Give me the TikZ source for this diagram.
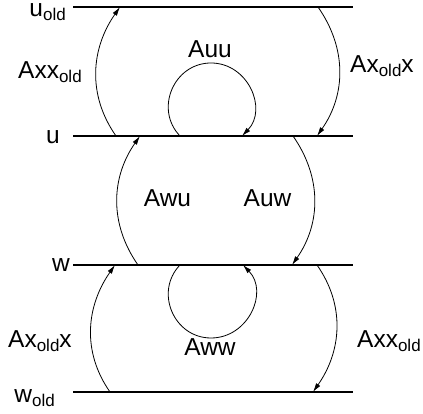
\documentclass[tikz,border=0pt]{standalone}
\usepackage{fontspec}
\setmainfont{Liberation Sans}
\usetikzlibrary{arrows.meta}
\newcommand{\oldsub}{\raisebox{-4pt}{\fontsize{17}{17}\selectfont old}}
\tikzset{
  level/.style={line width=1.2pt},
  link/.style={line width=0.8pt, -{Latex[length=9pt,width=5pt]}},
  lbl/.style={inner sep=0pt, font=\fontsize{24.5}{28}\selectfont},
  bulge-left/.style={out=125, in=235},
  bulge-right/.style={out=-55, in=55}
}

\begin{document}
\begin{tikzpicture}[x=1pt, y=1pt]
  \useasboundingbox (0,0) rectangle (423,414);
  % levels
  \coordinate (uo-l) at (73,407);  \coordinate (uo-r) at (353,407);
  \coordinate (u-l)  at (73,278);  \coordinate (u-r)  at (353,278);
  \coordinate (w-l)  at (73,149);  \coordinate (w-r)  at (353,149);
  \coordinate (wo-l) at (73,22);   \coordinate (wo-r) at (353,22);
  \draw[level] (uo-l) -- (uo-r);
  \draw[level] (u-l) -- (u-r);
  \draw[level] (w-l) -- (w-r);
  \draw[level] (wo-l) -- (wo-r);
  \node[lbl, anchor=base east] (uo-name) at (66,397) {u\oldsub};
  \node[lbl, anchor=base east] (u-name) at (60,270) {u};
  \node[lbl, anchor=base east] (w-name) at (70,142) {w};
  \node[lbl, anchor=base east] (wo-name) at (55,11) {w\oldsub};
  % ends of the links
  \coordinate (axxo-s) at (116,278); \coordinate (axxo-e) at (120,407);
  \coordinate (axox-s) at (318,407); \coordinate (axox-e) at (317,278);
  \coordinate (awu-s) at (138,149);  \coordinate (awu-e) at (140,278);
  \coordinate (auw-s) at (293,278);  \coordinate (auw-e) at (292,149);
  \coordinate (bxox-s) at (110,22);  \coordinate (bxox-e) at (115,149);
  \coordinate (bxxo-s) at (317,149); \coordinate (bxxo-e) at (313,22);
  \coordinate (uu-s) at (180,278); \coordinate (uu-top) at (211,351); \coordinate (uu-e) at (242,278);
  \coordinate (ww-s) at (180,149); \coordinate (ww-bot) at (211,76);  \coordinate (ww-e) at (243,149);
  % links
  \draw[link] (axxo-s) to[bulge-left] (axxo-e);
  \draw[link] (axox-s) to[bulge-right] (axox-e);
  \draw[link] (awu-s) to[bulge-left] (awu-e);
  \draw[link] (auw-s) to[bulge-right] (auw-e);
  \draw[link] (bxox-s) to[bulge-left] (bxox-e);
  \draw[link] (bxxo-s) to[bulge-right] (bxxo-e);
  \draw[link] (uu-s) to[out=134, in=180, looseness=1.2] (uu-top)
    to[out=0, in=46, looseness=1.2] (uu-e);
  \draw[link] (ww-s) to[out=226, in=180, looseness=1.2] (ww-bot)
    to[out=0, in=314, looseness=1.2] (ww-e);
  % link names
  \node[lbl, anchor=base west] (axxo-name) at (18,335) {Axx\oldsub};
  \node[lbl, anchor=base west] (axox-name) at (350,341) {Ax\oldsub x};
  \node[lbl, anchor=base] (auu-name) at (210,356) {Auu};
  \node[lbl, anchor=base] (awu-name) at (167.5,207) {Awu};
  \node[lbl, anchor=base] (auw-name) at (267.5,207) {Auw};
  \node[lbl, anchor=base] (aww-name) at (210,58) {Aww};
  \node[lbl, anchor=base west] (bxox-name) at (8,66) {Ax\oldsub x};
  \node[lbl, anchor=base west] (bxxo-name) at (357,66) {Axx\oldsub};
\end{tikzpicture}
\end{document}
